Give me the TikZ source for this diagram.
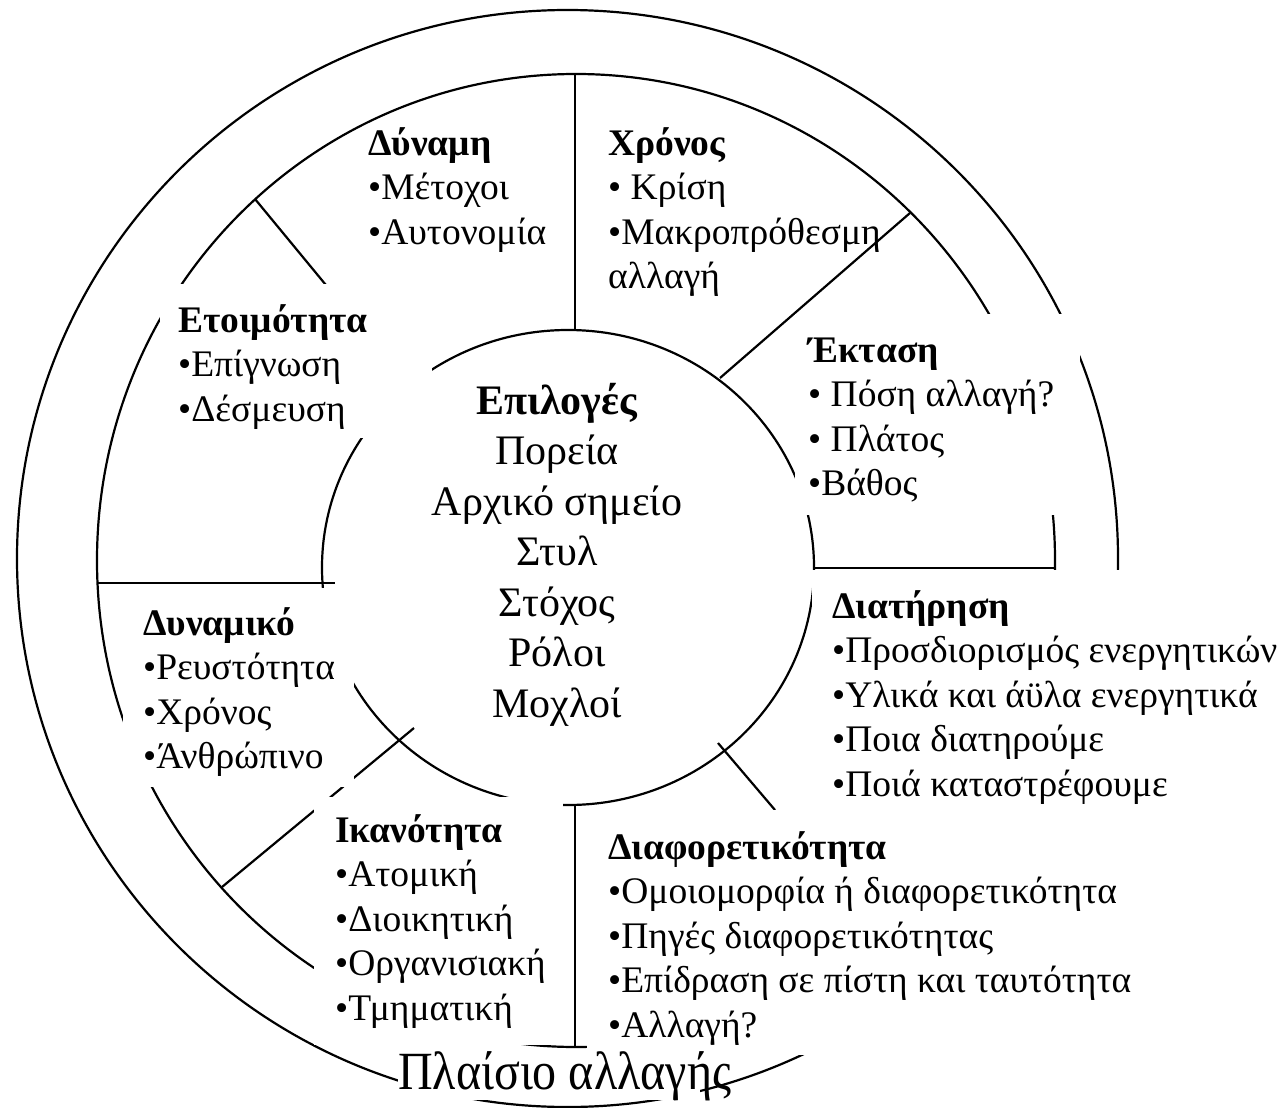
\documentclass[tikz,border=0pt]{standalone}
\usepackage{fontspec}
\usepackage{graphicx}
\setmainfont{Liberation Serif}
\begin{document}
\begin{tikzpicture}[x=1pt,y=-1pt,
  ring/.style={draw=black, line width=2.2pt},
  spoke/.style={draw=black, line width=2.2pt},
  mask/.style={fill=white},
  % multi-line texts are anchored at the baseline of their last line
  item/.style={anchor=base west, align=left, inner sep=0pt,
    font=\fontsize{37.5}{44.5}\selectfont},
  core/.style={anchor=base, align=center, inner sep=0pt,
    font=\fontsize{42}{50.5}\selectfont},
  frame/.style={anchor=base west, inner sep=0pt,
    font=\fontsize{48}{50}\selectfont},
]
\useasboundingbox (0,0) rectangle (1280,1108);

% the three rings
\coordinate (Couter) at (567.5,558.5);
\coordinate (Cmid) at (576,560.5);
\coordinate (Cin) at (568,567.5);
\draw[ring] (Couter) ellipse [x radius=550.5pt, y radius=548.5pt];
\draw[ring] (Cmid) ellipse [x radius=479pt, y radius=486.5pt];
\draw[ring] (Cin) ellipse [x radius=246pt, y radius=237.5pt];

% end points of the dividing spokes
\coordinate (nA) at (575,74);   \coordinate (nB) at (575,330);
\coordinate (neA) at (910,213); \coordinate (neB) at (720,378);
\coordinate (eA) at (813,568);  \coordinate (eB) at (1054,568);
\coordinate (seA) at (718,743); \coordinate (seB) at (775,810);
\coordinate (sA) at (575,805);  \coordinate (sB) at (575,1047);
\coordinate (swA) at (414,728); \coordinate (swB) at (222,887);
\coordinate (wA) at (97,583);   \coordinate (wB) at (335,583);
\coordinate (nwA) at (255,199); \coordinate (nwB) at (396,370);

\draw[spoke] (nA) -- (nB);
\draw[spoke] (neA) -- (neB);
\draw[spoke] (eA) -- (eB);
\draw[spoke] (seA) -- (seB);
\draw[spoke] (sA) -- (sB);
\draw[spoke] (swA) -- (swB);
\draw[spoke] (wA) -- (wB);
\draw[spoke] (nwA) -- (nwB);

% white text panels laid over the rings
\fill[mask] (160,284) rectangle (432,438);   % readiness
\fill[mask] (795,314) rectangle (1080,515);  % scope
\fill[mask] (812,570) rectangle (1280,810);  % preservation
\fill[mask] (587,810) rectangle (1140,1055); % diversity
\fill[mask] (123,588) rectangle (354,787);   % potential
\fill[mask] (314,797) rectangle (563,1045);  % capability
\fill[mask] (398,1050) rectangle (700,1100); % frame title

% texts
\node[item] (power) at (368,244) {\textbf{Δύναμη}\\•Μέτοχοι\\•Αυτονομία};
\node[item] (time) at (608,288.5) {\textbf{Χρόνος}\\• Κρίση\\•Μακροπρόθεσμη\\αλλαγή};
\node[item] (ready) at (178,421) {\textbf{Ετοιμότητα}\\•Επίγνωση\\•Δέσμευση};
\node[item] (scope) at (808,495.5) {\textbf{Έκταση}\\• Πόση αλλαγή?\\• Πλάτος\\•Βάθος};
\node[item] (keep) at (832,796) {\textbf{Διατήρηση}\\•Προσδιορισμός ενεργητικών\\•Υλικά και άϋλα ενεργητικά\\•Ποια διατηρούμε\\•Ποιά καταστρέφουμε};
\node[item] (pot) at (143,768.5) {\textbf{Δυναμικό}\\•Ρευστότητα\\•Χρόνος\\•Άνθρώπινο};
\node[item] (cap) at (335,1020) {\textbf{Ικανότητα}\\•Ατομική\\•Διοικητική\\•Οργανισιακή\\•Τμηματική};
\node[item] (div) at (608,1037) {\textbf{Διαφορετικότητα}\\•Ομοιομορφία ή διαφορετικότητα\\•Πηγές διαφορετικότητας\\•Επίδραση σε πίστη και ταυτότητα\\•Αλλαγή?};
\node[core] (choices) at (557,717) {\textbf{Επιλογές}\\Πορεία\\Αρχικό σημείο\\Στυλ\\Στόχος\\Ρόλοι\\Μοχλοί};
\node[frame] (title) at (398,1089) {\scalebox{1}[1.12]{Πλαίσιο αλλαγής}};
\end{tikzpicture}
\end{document}
